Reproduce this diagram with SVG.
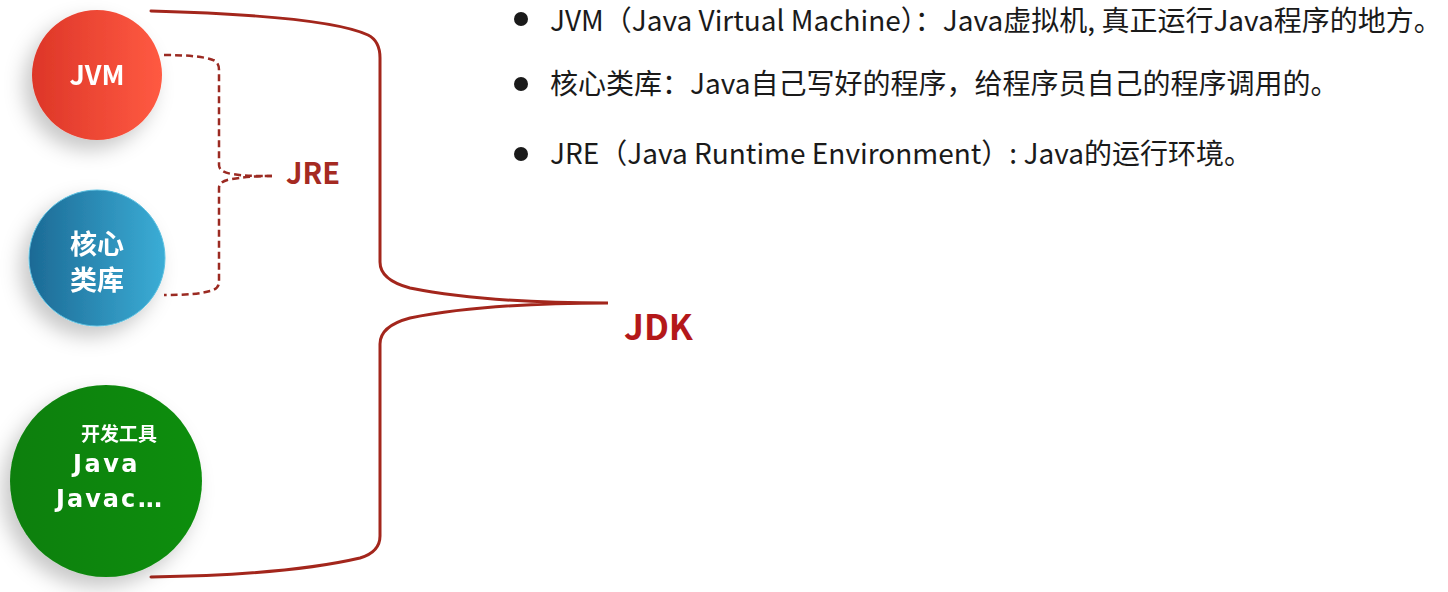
<svg xmlns="http://www.w3.org/2000/svg" width="1448" height="592" viewBox="0 0 1448 592">
<defs>
<style>
.node-label{font-family:"Noto Sans CJK SC","DejaVu Sans",sans-serif;font-weight:bold;fill:#ffffff;text-anchor:middle}
.java{font-family:"DejaVu Sans","Noto Sans CJK SC",sans-serif;font-weight:bold;fill:#ffffff}
.bullet-text{font-family:"Noto Sans CJK SC","Noto Sans",sans-serif;font-size:28px;fill:#1a1a1a}
.brace{fill:none;stroke:#a3261c;stroke-width:3;stroke-linecap:round}
.dash{fill:none;stroke:#9b2a22;stroke-width:2.5;stroke-dasharray:7 4}
.tag{font-family:"Noto Sans CJK SC","DejaVu Sans",sans-serif;font-weight:bold}
</style>
<linearGradient id="gRed" x1="0" y1="0" x2="1" y2="0">
<stop offset="0" stop-color="#dd3628"/><stop offset="1" stop-color="#ff5a42"/>
</linearGradient>
<linearGradient id="gBlue" x1="0" y1="0" x2="1" y2="0">
<stop offset="0" stop-color="#1c6a95"/><stop offset="1" stop-color="#3badd6"/>
</linearGradient>
<linearGradient id="gGreen" x1="0" y1="0" x2="1" y2="0">
<stop offset="0" stop-color="#0b7f0b"/><stop offset="1" stop-color="#0a8e0a"/>
</linearGradient>
<filter id="shadow" x="-50%" y="-50%" width="200%" height="200%">
<feDropShadow dx="-8" dy="10" stdDeviation="10" flood-color="#000" flood-opacity="0.22"/>
</filter>
</defs>
<rect width="1448" height="592" fill="#ffffff"/>

<g id="connectors">
<path class="brace" d="M151,11 C260,14 340,22 368,35 Q380,41 380,58 L380,262 Q380,280 410,288 C470,300 540,303 608,303 C540,303 470,306 410,318 Q380,326 380,344 L380,536 Q380,552 360,558 C300,572 220,576 151,577"/>
<path class="dash" d="M164,55 C190,55 205,57 213,60 Q219,62 219,70 L219,165 Q219,172 232,174 C245,176 255,176 272,176"/>
<path class="dash" d="M272,176 C255,176 245,177 232,179 Q219,181 219,188 L219,282 Q219,289 210,291 C200,294 185,295 164,295"/>
</g>

<g id="node-jvm" filter="url(#shadow)">
<circle cx="97" cy="75" r="65" fill="url(#gRed)"/>
<text class="node-label" x="97" y="85" font-size="27">JVM</text>
</g>

<g id="node-core" filter="url(#shadow)">
<circle cx="97" cy="258" r="68" fill="url(#gBlue)" stroke="#5cc0e0" stroke-width="1"/>
<text class="node-label" x="97" y="254" font-size="27">核心</text>
<text class="node-label" x="97" y="290" font-size="27">类库</text>
</g>

<g id="node-tools" filter="url(#shadow)">
<circle cx="106" cy="481" r="96" fill="url(#gGreen)"/>
<text class="node-label" x="119" y="441" font-size="19">开发工具</text>
<text class="java" x="73" y="472" font-size="24" letter-spacing="2.5">Java</text>
<text class="java" x="56" y="507" font-size="24" letter-spacing="2">Javac<tspan letter-spacing="-1">...</tspan></text>
</g>

<g id="label-jre">
<text class="tag" x="286" y="184" font-size="29" fill="#a52a22">JRE</text>
</g>

<g id="label-jdk">
<text class="tag" x="624" y="340" font-size="35" fill="#b4181a">JDK</text>
</g>

<g id="bullets">
<circle cx="521" cy="19" r="7" fill="#1a1a1a"/>
<text class="bullet-text" x="550" y="31">JVM（Java Virtual Machine）：Java虚拟机, 真正运行Java程序的地方。</text>
<circle cx="521" cy="84" r="7" fill="#1a1a1a"/>
<text class="bullet-text" x="550" y="94">核心类库：Java自己写好的程序，给程序员自己的程序调用的。</text>
<circle cx="521" cy="154" r="7" fill="#1a1a1a"/>
<text class="bullet-text" x="550" y="164">JRE（Java Runtime Environment）: Java的运行环境。</text>
</g>
</svg>
